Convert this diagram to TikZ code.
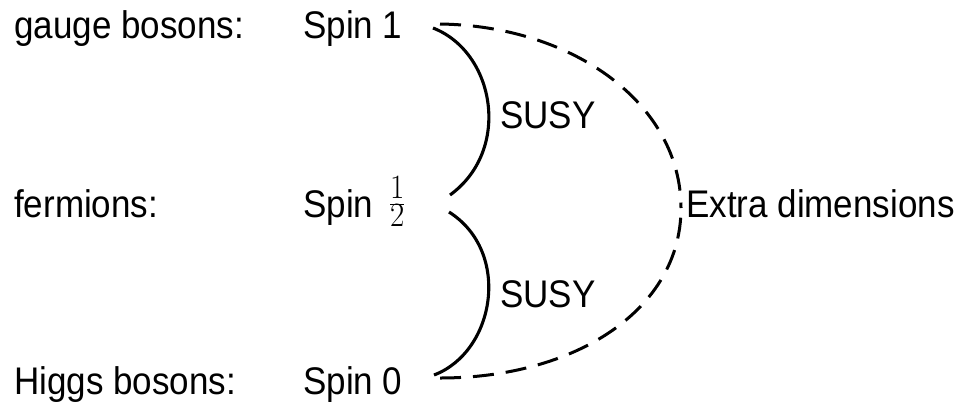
\documentclass[tikz,border=0pt]{standalone}
\usepackage{fix-cm}
\usepackage{fontspec}
\setmainfont{Liberation Sans}
\DeclareMathSizes{35}{35}{31}{22}
\begin{document}
\begin{tikzpicture}[x=1pt,y=-1pt,
  lbl/.style={anchor=base west,inner sep=0pt,yscale=1.1,transform shape,
    font=\fontsize{35}{42}\selectfont},
  arc/.style={line width=3.1pt},
  darc/.style={line width=3pt,dash pattern=on 21pt off 12pt}]
\useasboundingbox (0,0) rectangle (965,407);
\node[lbl] (g) at (14,38) {gauge bosons:};
\node[lbl] (f) at (14,217) {fermions:};
\node[lbl] (h) at (14,394) {Higgs bosons:};
\node[lbl] (s1) at (303,38) {Spin 1};
\node[lbl] (sh) at (303,217) {Spin\, \raisebox{3pt}{$\frac{1}{2}$}};
\node[lbl] (s0) at (303,394) {Spin 0};
\node[lbl] (su1) at (500,128) {SUSY};
\node[lbl] (su2) at (500,307) {SUSY};
\node[lbl] (ed) at (686,217) {Extra dimensions};
\coordinate (a1) at (433,28);
\coordinate (a2) at (450,195);
\coordinate (b1) at (449,212);
\coordinate (b2) at (434,375);
\coordinate (d1) at (440,24);
\coordinate (dm) at (681,208);
\coordinate (d2) at (440,378);
\draw[arc] (a1) .. controls (495,52) and (512,150) .. (a2);
\draw[arc] (b1) .. controls (512,252) and (495,352) .. (b2);
\draw[darc] (d1) .. controls (575,26) and (681,105) .. (dm);
\draw[darc] (d2) .. controls (575,378) and (681,310) .. (dm);
\end{tikzpicture}
\end{document}
